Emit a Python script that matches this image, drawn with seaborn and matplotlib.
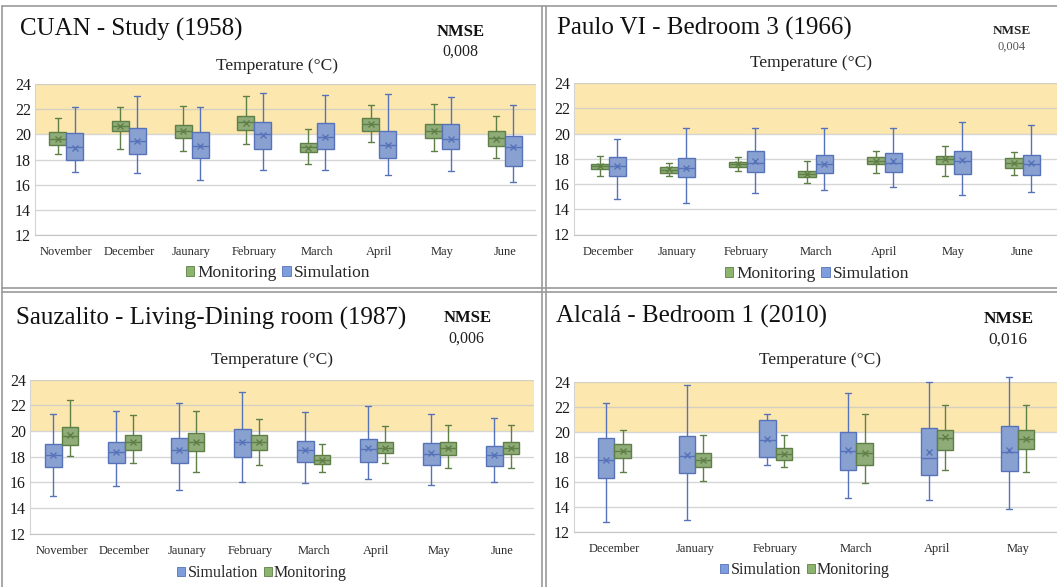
import matplotlib
matplotlib.use("Agg")
import matplotlib.pyplot as plt
from matplotlib.lines import Line2D
from matplotlib.patches import Patch
import pandas as pd
import seaborn as sns

# ---------------------------------------------------------------------------
# Monthly indoor temperature distributions (°C)
# each row: (whisker low, Q1, median, Q3, whisker high); means listed apart
# ---------------------------------------------------------------------------
cuan_months = ["November", "December", "Jaunary", "February", "March", "April", "May", "June"]
cuan_monitoring = [
    (18.40, 19.15, 19.65, 20.15, 21.30),
    (18.80, 20.25, 20.65, 21.05, 22.15),
    (18.65, 19.70, 20.25, 20.75, 22.25),
    (19.25, 20.35, 20.95, 21.45, 23.05),
    (17.65, 18.60, 19.00, 19.30, 20.40),
    (19.40, 20.25, 20.80, 21.30, 22.35),
    (18.65, 19.70, 20.30, 20.80, 22.40),
    (18.15, 19.05, 19.70, 20.25, 21.45),
]
cuan_monitoring_mean = [19.65, 20.65, 20.25, 20.90, 18.95, 20.80, 20.30, 19.65]
cuan_simulation = [
    (17.00, 17.95, 19.00, 20.10, 22.15),
    (16.95, 18.40, 19.50, 20.50, 23.05),
    (16.35, 18.15, 19.10, 20.15, 22.20),
    (17.20, 18.85, 20.00, 20.95, 23.25),
    (17.20, 18.80, 19.80, 20.90, 23.15),
    (16.75, 18.15, 19.15, 20.25, 23.20),
    (17.10, 18.80, 19.60, 20.85, 22.95),
    (16.20, 17.50, 19.00, 19.90, 22.35),
]
cuan_simulation_mean = [18.95, 19.50, 19.10, 19.95, 19.80, 19.15, 19.60, 19.00]

paulo_months = ["December", "January", "February", "March", "April", "May", "June"]
paulo_monitoring = [
    (16.60, 17.15, 17.40, 17.60, 18.25),
    (16.60, 16.90, 17.10, 17.35, 17.70),
    (17.00, 17.35, 17.55, 17.75, 18.10),
    (16.10, 16.55, 16.80, 17.05, 17.80),
    (16.90, 17.55, 17.80, 18.10, 18.60),
    (16.60, 17.60, 17.95, 18.25, 19.00),
    (16.70, 17.30, 17.70, 18.05, 18.50),
]
paulo_monitoring_mean = [17.40, 17.15, 17.55, 16.80, 17.85, 17.95, 17.70]
paulo_simulation = [
    (14.80, 16.60, 17.40, 18.15, 19.60),
    (14.50, 16.55, 17.30, 18.05, 20.40),
    (15.25, 16.95, 17.70, 18.65, 20.40),
    (15.55, 16.90, 17.60, 18.30, 20.40),
    (15.75, 16.95, 17.70, 18.45, 20.40),
    (15.15, 16.80, 17.80, 18.60, 20.90),
    (15.35, 16.70, 17.60, 18.30, 20.70),
]
paulo_simulation_mean = [17.40, 17.30, 17.80, 17.60, 17.80, 17.90, 17.65]

sauz_months = ["November", "December", "Jaunary", "February", "March", "April", "May", "June"]
sauz_simulation = [
    (14.95, 17.20, 18.10, 18.95, 21.30),
    (15.70, 17.50, 18.35, 19.15, 21.55),
    (15.40, 17.50, 18.50, 19.45, 22.15),
    (16.05, 17.95, 19.10, 20.15, 23.05),
    (15.95, 17.55, 18.55, 19.25, 21.45),
    (16.25, 17.55, 18.60, 19.40, 21.95),
    (15.80, 17.35, 18.20, 19.05, 21.30),
    (16.05, 17.25, 18.10, 18.85, 21.00),
]
sauz_simulation_mean = [18.10, 18.35, 18.50, 19.15, 18.55, 18.65, 18.25, 18.10]
sauz_monitoring = [
    (18.05, 18.90, 19.60, 20.30, 22.40),
    (17.50, 18.50, 19.15, 19.70, 21.20),
    (16.80, 18.45, 19.15, 19.80, 21.55),
    (17.35, 18.50, 19.10, 19.65, 20.90),
    (16.80, 17.45, 17.75, 18.10, 18.95),
    (17.50, 18.25, 18.70, 19.15, 20.40),
    (17.15, 18.10, 18.65, 19.15, 20.45),
    (17.15, 18.20, 18.70, 19.15, 20.45),
]
sauz_monitoring_mean = [19.65, 19.15, 19.15, 19.10, 17.75, 18.70, 18.65, 18.70]

alcala_months = ["December", "January", "February", "March", "April", "May"]
alcala_simulation = [
    (12.80, 16.30, 17.80, 19.55, 22.35),
    (13.00, 16.70, 18.10, 19.70, 23.80),
    (17.35, 18.00, 19.40, 21.00, 21.45),
    (14.75, 17.00, 18.50, 20.00, 23.15),
    (14.55, 16.55, 17.95, 20.30, 24.00),
    (13.85, 16.90, 18.40, 20.50, 24.40),
]
alcala_simulation_mean = [17.80, 18.15, 19.45, 18.60, 18.40, 18.60]
alcala_monitoring = [
    (16.80, 17.90, 18.50, 19.05, 20.20),
    (16.05, 17.20, 17.80, 18.35, 19.75),
    (17.20, 17.80, 18.25, 18.75, 19.80),
    (15.95, 17.35, 18.30, 19.15, 21.45),
    (17.00, 18.60, 19.55, 20.20, 22.20),
    (16.80, 18.65, 19.45, 20.20, 22.20),
]
alcala_monitoring_mean = [18.50, 17.80, 18.25, 18.30, 19.60, 19.45]

# comfort band and NMSE values
comfort_low, comfort_high = 20, 24
nmse = {"cuan": "0,008", "paulo": "0,004", "sauz": "0,006", "alcala": "0,016"}

# ---------------------------------------------------------------------------
# styling
# ---------------------------------------------------------------------------
sns.set_style("white")
plt.rcParams["font.family"] = ["Liberation Serif", "DejaVu Serif"]

FILL = {"Monitoring": "#8DB46F", "Simulation": "#7D9DDD"}
EDGE = {"Monitoring": "#5E7F45", "Simulation": "#5672B8"}
BAND = "#FCE7AE"
GRID = "#C8C8C8"

W, H = 1057, 587
fig = plt.figure(figsize=(W / 100, H / 100), dpi=100, facecolor="white")


def fx(x):
    return x / W


def fy(y):
    return 1 - y / H


def add_axes_px(left, top, right, bottom):
    return fig.add_axes([fx(left), fy(bottom), (right - left) / W, (bottom - top) / H])


def long_frame(months, name, rows):
    recs = [(m, name, v) for m, row in zip(months, rows) for v in row]
    return pd.DataFrame(recs, columns=["month", "series", "temp"])


def mean_frame(months, name, means):
    return pd.DataFrame({"month": months, "series": name, "temp": means})


def draw_panel(rect, months, series, box_px, cat_px):
    ax = add_axes_px(*rect)
    hue_order = [s[0] for s in series]
    width = 2 * box_px / cat_px
    ax.axhspan(comfort_low, comfort_high, color=BAND, zorder=0, lw=0)
    for name, rows, means in series:
        sns.boxplot(
            data=long_frame(months, name, rows), x="month", y="temp",
            hue="series", hue_order=hue_order, order=months,
            palette=FILL, linecolor=EDGE[name], linewidth=1.0,
            width=width, gap=0, dodge=True, whis=(0, 100),
            capwidths=6 / cat_px, legend=False, ax=ax,
        )
    # whiskers may run slightly past the 24 °C limit
    for ln in ax.lines:
        ln.set_clip_on(False)
    for name, rows, means in series:
        sns.pointplot(
            data=mean_frame(months, name, means), x="month", y="temp",
            hue="series", hue_order=hue_order, order=months,
            palette=EDGE, linestyle="none", marker="x", markersize=5,
            markeredgewidth=1.0, dodge=width / 2, errorbar=None,
            legend=False, ax=ax, zorder=6,
        )
    ax.set_ylim(12, 24)
    ax.set_yticks(range(12, 25, 2))
    ax.yaxis.grid(True, color=GRID, lw=1.0, alpha=0.75)
    ax.set_axisbelow(True)
    ax.set_xlabel("")
    ax.set_ylabel("")
    for s in ("top", "right"):
        ax.spines[s].set_visible(False)
    ax.spines["left"].set_color("#D4D4D4")
    ax.spines["bottom"].set_color("#C4C4C4")
    ax.tick_params(axis="y", length=0, pad=3, labelsize=11.5, labelcolor="#1A1A1A")
    ax.tick_params(axis="x", length=0, pad=8, labelsize=9, labelcolor="#2A2A2A")
    ax.set_facecolor("white")
    return ax


def legend_at(order, cx, cy, size):
    handles = [Patch(facecolor=FILL[n], edgecolor=EDGE[n], lw=0.6) for n in order]
    fig.legend(handles, order, loc="center", bbox_to_anchor=(fx(cx), fy(cy)),
               ncol=2, frameon=False, fontsize=size, handlelength=0.5,
               handleheight=0.5, handletextpad=0.15, columnspacing=0.35,
               borderpad=0, borderaxespad=0)


# ---------------------------------------------------------------------------
# panels
# ---------------------------------------------------------------------------
draw_panel((35, 84, 536, 235), cuan_months,
           [("Monitoring", cuan_monitoring, cuan_monitoring_mean),
            ("Simulation", cuan_simulation, cuan_simulation_mean)], 17, 62.6)
draw_panel((574, 83, 1057, 234.5), paulo_months,
           [("Monitoring", paulo_monitoring, paulo_monitoring_mean),
            ("Simulation", paulo_simulation, paulo_simulation_mean)], 17.5, 69.0)
draw_panel((30, 379.5, 534, 533.7), sauz_months,
           [("Simulation", sauz_simulation, sauz_simulation_mean),
            ("Monitoring", sauz_monitoring, sauz_monitoring_mean)], 16.5, 63.0)
draw_panel((574, 382, 1058, 532), alcala_months,
           [("Simulation", alcala_simulation, alcala_simulation_mean),
            ("Monitoring", alcala_monitoring, alcala_monitoring_mean)], 16.5, 80.7)

# titles
title_kw = dict(fontsize=18, ha="left", va="center", color="#111111")
fig.text(fx(20), fy(29), "CUAN - Study (1958)", **title_kw)
fig.text(fx(557), fy(28.5), "Paulo VI - Bedroom 3 (1966)", **title_kw)
fig.text(fx(16), fy(318), "Sauzalito - Living-Dining room (1987)", **title_kw)
fig.text(fx(556), fy(316), "Alcalá - Bedroom 1 (2010)", **title_kw)

# NMSE annotations
fig.text(fx(461), fy(32), "NMSE", fontsize=12, fontweight="bold", ha="center", va="center", color="#111111")
fig.text(fx(460), fy(52), nmse["cuan"], fontsize=11.5, ha="center", va="center", color="#222222")
fig.text(fx(1012), fy(31.5), "NMSE", fontsize=9.5, fontweight="bold", ha="center", va="center", color="#222222")
fig.text(fx(1012), fy(46.5), nmse["paulo"], fontsize=9, ha="center", va="center", color="#555555")
fig.text(fx(468), fy(318.5), "NMSE", fontsize=12, fontweight="bold", ha="center", va="center", color="#111111")
fig.text(fx(466), fy(339), nmse["sauz"], fontsize=11.5, ha="center", va="center", color="#222222")
fig.text(fx(1009), fy(319), "NMSE", fontsize=12.5, fontweight="bold", ha="center", va="center", color="#111111")
fig.text(fx(1008), fy(339.5), nmse["alcala"], fontsize=12.5, ha="center", va="center", color="#222222")

# axis captions
cap_kw = dict(fontsize=12.5, ha="center", va="center", color="#222222")
fig.text(fx(277), fy(66), "Temperature (°C)", **cap_kw)
fig.text(fx(811), fy(63), "Temperature (°C)", **cap_kw)
fig.text(fx(272), fy(360), "Temperature (°C)", **cap_kw)
fig.text(fx(820), fy(360), "Temperature (°C)", **cap_kw)

# legends
legend_at(["Monitoring", "Simulation"], 278, 273, 12.5)
legend_at(["Monitoring", "Simulation"], 817, 274, 12.5)
legend_at(["Simulation", "Monitoring"], 262, 573, 11.5)
legend_at(["Simulation", "Monitoring"], 805, 570, 11.5)

# panel frames
frame_kw = dict(color="#9A9A9A", lw=1.2, transform=fig.transFigure)
for x in (2, 542, 546):
    fig.add_artist(Line2D([fx(x), fx(x)], [fy(6), fy(587)], **frame_kw))
for y in (6, 287.5, 291.5):
    fig.add_artist(Line2D([fx(2), fx(1057)], [fy(y), fy(y)], **frame_kw))

fig.savefig("out.png", dpi=100, facecolor="white")
